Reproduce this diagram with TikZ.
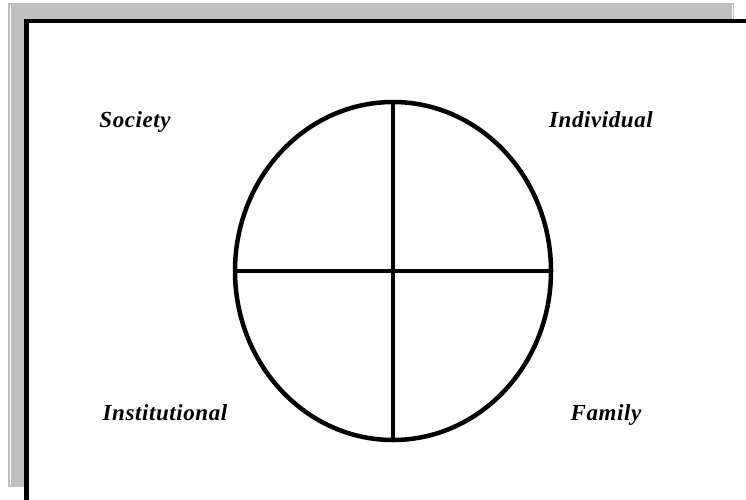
\documentclass[tikz,border=0pt]{standalone}
\usepackage{fontspec}
\setmainfont{Liberation Serif}
\usepackage{tikz}
\usetikzlibrary{shapes.geometric}
\definecolor{shadowgray}{RGB}{192,192,192}

\begin{document}
\begin{tikzpicture}[x=1pt, y=-1pt,
 quadname/.style={anchor=base, inner sep=0pt, font=\fontsize{23}{27}\selectfont\bfseries\itshape\addfontfeature{LetterSpace=2.5}},
 wheel/.style={draw, ellipse, line width=4.5pt, outer sep=0pt, inner sep=0pt, minimum width=316pt, minimum height=338pt},
 divider/.style={line width=4.5pt}]
\useasboundingbox (0,0) rectangle (746,499);
\clip (0,0) rectangle (746,499);
% shadow and frame
\fill[shadowgray] (8,3) rectangle (734,487);
\draw[white, line width=1pt] (10.5,5) -- (10.5,485) (732.5,5) -- (732.5,18);
\fill[white] (26,21) rectangle (760,510);
\draw[line width=4.5pt] (26.5,510) |- (760,21);
% circle cut in four
\node[wheel] (wheel) at (393,271) {};
\draw[divider] (wheel.north) -- (wheel.south);
\draw[divider] (wheel.west) -- (wheel.east);
% names of the quarters
\node[quadname] (society) at (135,127) {Society};
\node[quadname] (individual) at (601,127) {Individual};
\node[quadname] (institutional) at (165,420) {Institutional};
\node[quadname] (family) at (606,420) {Family};
\end{tikzpicture}
\end{document}
